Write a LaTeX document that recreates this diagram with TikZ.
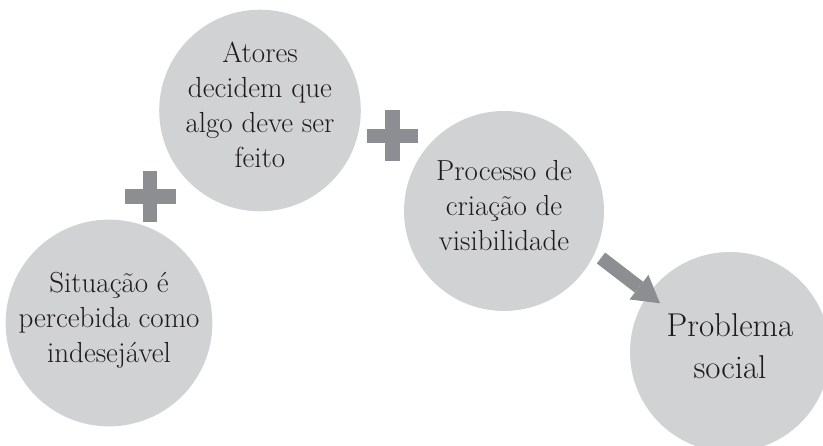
\documentclass[tikz,border=0pt]{standalone}
\usetikzlibrary{arrows.meta}
\definecolor{circfill}{RGB}{209,210,212}
\definecolor{markgray}{RGB}{141,142,145}
\definecolor{inkcol}{RGB}{30,27,28}
\tikzset{
  bubble/.style={circle, fill=circfill, minimum size=200pt, inner sep=0pt,
    align=center, text=inkcol, font=\fontsize{29}{35}\selectfont,
    execute at begin node={\rule{0pt}{#1}}, execute at end node={\strut}},
  bubble/.default=24.5pt,
  bigtext/.style={font=\fontsize{33}{42}\selectfont},
  fatarrow/.style={draw=markgray, line width=13.7pt,
    -{Triangle[length=26.5pt, width=31pt, line width=0pt]}},
  plussign/.pic={
    \fill[markgray] (-25.5,-7.25) rectangle (25.5,7.25);
    \fill[markgray] (-7.25,-25.5) rectangle (7.25,25.5);
  }
}
\begin{document}
\begin{tikzpicture}[x=1pt,y=-1pt]
  \clip (0,0) rectangle (823,446);
  \node[bubble=22.5pt] (c1) at (109,323) {Situação é\\percebida como\\indesejável};
  \node[bubble] (c2) at (260,110.5) {Atores\\decidem que\\algo deve ser\\feito};
  \node[bubble=51.9pt] (c3) at (504,211) {Processo de\\criação de\\visibilidade};
  \node[bubble=50.6pt, bigtext] (c4) at (730,352) {Problema\\social};
  \pic (p1) at (150,196.5) {plussign};
  \pic (p2) at (392.5,136) {plussign};
  \coordinate (a1) at (601,258);
  \coordinate (a2) at (660,303.3);
  \draw[fatarrow] (a1) -- (a2);
\end{tikzpicture}
\end{document}
